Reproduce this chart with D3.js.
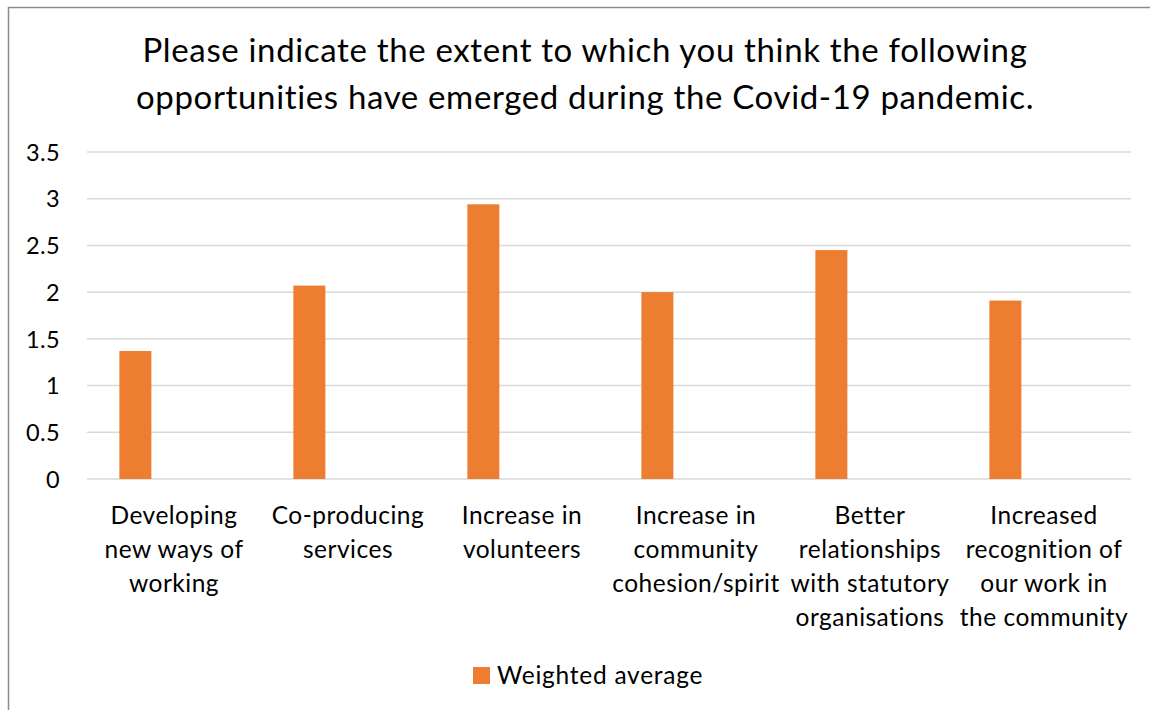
<!DOCTYPE html>
<html>
<head>
<meta charset="utf-8">
<script src="https://cdn.jsdelivr.net/npm/d3@7"></script>
<style>
  body { margin: 0; background: #fff; }
  text { font-family: Lato, "Open Sans", sans-serif; fill: #000; }
</style>
</head>
<body>
<div id="chart"></div>
<script>
var titleLines = ["Please indicate the extent to which you think the following",
                  "opportunities have emerged during the Covid-19 pandemic."];
var categories = [
  ["Developing", "new ways of", "working"],
  ["Co-producing", "services"],
  ["Increase in", "volunteers"],
  ["Increase in", "community", "cohesion/spirit"],
  ["Better", "relationships", "with statutory", "organisations"],
  ["Increased", "recognition of", "our work in", "the community"]
];
var values = [1.37, 2.07, 2.94, 2.0, 2.45, 1.91];
var yTicks = [0, 0.5, 1, 1.5, 2, 2.5, 3, 3.5];
var seriesName = "Weighted average";

var svgWidth = 1150;
var svgHeight = 710;
var margin = { top: 152, right: 19, bottom: 231, left: 87 };
var width = svgWidth - margin.left - margin.right;
var height = svgHeight - margin.top - margin.bottom;

var svg = d3.select("#chart")
  .append("svg")
  .attr("width", svgWidth)
  .attr("height", svgHeight);

// outer chart frame
svg.append("rect")
  .attr("x", 8.5)
  .attr("y", 7.5)
  .attr("width", 1160)
  .attr("height", 720)
  .attr("fill", "none")
  .attr("stroke", "#8c8c8c")
  .attr("stroke-width", 1.5);

// title
svg.selectAll(".title")
  .data(titleLines)
  .enter()
  .append("text")
  .attr("class", "title")
  .attr("x", 585)
  .attr("y", (d, i) => 62 + i * 47)
  .attr("text-anchor", "middle")
  .style("font-size", "33px")
  .style("letter-spacing", "0.65px")
  .text(d => d);

var chartGroup = svg.append("g")
  .attr("transform", `translate(${margin.left}, ${margin.top})`);

var xBand = d3.scaleBand()
  .domain(d3.range(categories.length))
  .range([0, width])
  .padding(0);

var yLinear = d3.scaleLinear()
  .domain([0, 3.5])
  .range([height, 0]);

// gridlines
chartGroup.selectAll(".grid")
  .data(yTicks)
  .enter()
  .append("line")
  .attr("class", "grid")
  .attr("x1", 0)
  .attr("x2", width)
  .attr("y1", d => yLinear(d))
  .attr("y2", d => yLinear(d))
  .attr("stroke", "#d9d9d9")
  .attr("stroke-width", 1.5);

// y axis labels
var leftAxis = d3.axisLeft(yLinear)
  .tickValues(yTicks)
  .tickSize(0)
  .tickPadding(27)
  .tickFormat(d => d);

var yAxis = chartGroup.append("g").call(leftAxis);
yAxis.select(".domain").remove();
yAxis.selectAll("text")
  .style("font-size", "23.5px")
  .style("letter-spacing", "0.4px")
  .attr("fill", "#000")
  .attr("dy", "0.35em");

// bars, sitting left in each category (empty second series slot)
chartGroup.selectAll("rect.bar")
  .data(values)
  .enter()
  .append("rect")
  .attr("class", "bar")
  .attr("x", (d, i) => xBand(i) + xBand.bandwidth() * 0.186)
  .attr("width", xBand.bandwidth() * 0.184)
  .attr("y", d => yLinear(d))
  .attr("height", d => height - yLinear(d))
  .attr("fill", "#ED7D31");

// category labels
var catGroup = chartGroup.selectAll(".cat")
  .data(categories)
  .enter()
  .append("text")
  .attr("class", "cat")
  .attr("text-anchor", "middle")
  .style("font-size", "24.5px")
  .style("letter-spacing", "0.5px");

catGroup.selectAll("tspan")
  .data((d, i) => d.map(t => ({ t: t, i: i })))
  .enter()
  .append("tspan")
  .attr("x", d => xBand(d.i) + xBand.bandwidth() / 2)
  .attr("y", (d, j) => height + 45 + j * 34)
  .text(d => d.t);

// legend
var legend = svg.append("g")
  .attr("transform", "translate(473, 667)");

legend.append("rect")
  .attr("width", 17)
  .attr("height", 17)
  .attr("fill", "#ED7D31");

legend.append("text")
  .attr("x", 24)
  .attr("y", 8.5)
  .attr("dy", "0.35em")
  .style("font-size", "24.5px")
  .style("letter-spacing", "0.75px")
  .text(seriesName);
</script>
</body>
</html>
